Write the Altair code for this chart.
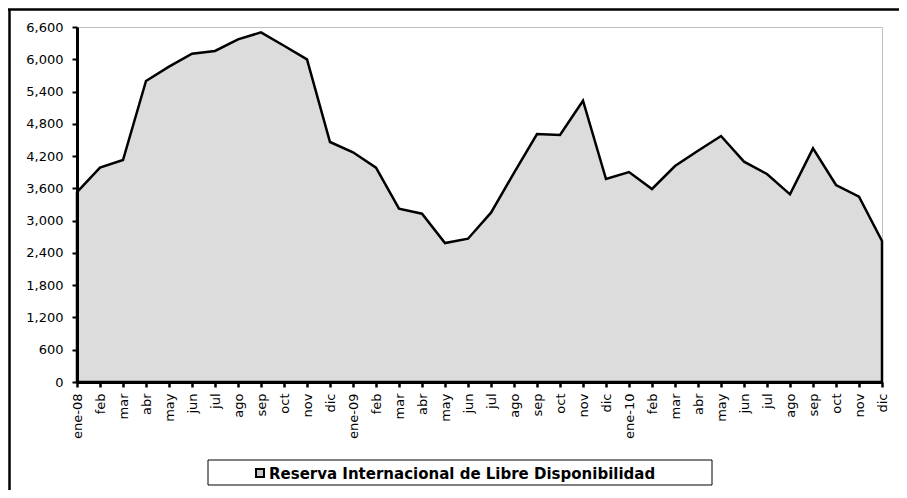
import altair as alt
import pandas as pd

months = ["ene-08", "feb", "mar", "abr", "may", "jun", "jul", "ago", "sep", "oct", "nov", "dic",
          "ene-09", "feb ", "mar ", "abr ", "may ", "jun ", "jul ", "ago ", "sep ", "oct ", "nov ", "dic ",
          "ene-10", "feb  ", "mar  ", "abr  ", "may  ", "jun  ", "jul  ", "ago  ", "sep  ", "oct  ", "nov  ", "dic  "]
values = [3530, 3985, 4127, 5596, 5862, 6104, 6154, 6371, 6500, 6252, 5999, 4462,
          4270, 3984, 3222, 3129, 2584, 2664, 3148, 3890, 4610, 4592, 5230, 3774,
          3904, 3588, 4015, 4300, 4573, 4096, 3867, 3489, 4344, 3662, 3445, 2621]
y_ticks = [0, 600, 1200, 1800, 2400, 3000, 3600, 4200, 4800, 5400, 6000, 6600]
series_name = "Reserva Internacional de Libre Disponibilidad"

df = pd.DataFrame({"mes": months, "valor": values})

FONT = "DejaVu Sans"

x_enc = alt.X("mes:O", sort=months, title=None,
              scale=alt.Scale(type="point", padding=0),
              axis=alt.Axis(labelAngle=-90, labelAlign="right", labelBaseline="middle",
                            labelFont=FONT, labelFontSize=13, labelColor="black",
                            labelPadding=6, tickSize=5, tickWidth=2.5, tickColor="black",
                            domainColor="black", domainWidth=3, zindex=2,
                            labelExpr="trim(datum.label)"))
y_enc = alt.Y("valor:Q", title=None,
              scale=alt.Scale(domain=[0, 6600], nice=False),
              axis=alt.Axis(values=y_ticks, format=",d", labelFont=FONT, labelFontSize=13,
                            labelColor="black", labelPadding=9, tickSize=5, tickWidth=2,
                            tickColor="black", domainColor="black", domainWidth=3,
                            grid=False, zindex=2))

area = alt.Chart(df).mark_area(fill="#dcdcdc", stroke="black", strokeWidth=2.5,
                               strokeJoin="miter").encode(x=x_enc, y=y_enc)

# outer frame lines (top and left)
frame_top = alt.Chart(pd.DataFrame({"a": [0]})).mark_rule(color="black", strokeWidth=2.5).encode(
    x=alt.value(-69), x2=alt.value(830), y=alt.value(-17.5))
frame_left = alt.Chart(pd.DataFrame({"a": [0]})).mark_rule(color="black", strokeWidth=2.5).encode(
    x=alt.value(-67.5), y=alt.value(-18), y2=alt.value(470))

# legend box
leg_box = alt.Chart(pd.DataFrame({"a": [0]})).mark_rect(fill="white", stroke="black", strokeWidth=1).encode(
    x=alt.value(131), x2=alt.value(635), y=alt.value(433), y2=alt.value(458))
leg_sym = alt.Chart(pd.DataFrame({"a": [0]})).mark_rect(fill="#c8c8c8", stroke="black", strokeWidth=2).encode(
    x=alt.value(179), x2=alt.value(187), y=alt.value(442), y2=alt.value(450))
leg_text = alt.Chart(pd.DataFrame({"t": [series_name]})).mark_text(
    font=FONT, fontSize=15, fontWeight="bold", color="black", align="left", baseline="middle").encode(
    x=alt.value(192), y=alt.value(446.5), text="t:N")

chart = alt.layer(area, frame_top, frame_left, leg_box, leg_sym, leg_text).properties(
    width=805, height=355,
    autosize=alt.AutoSizeParams(type="none"),
    padding={"left": 69, "top": 19, "right": 17, "bottom": 108},
    background="white",
).configure_view(stroke="#c0c0c0", strokeWidth=1)

chart.save("out.html", embed_options={"renderer": "svg", "actions": False})
